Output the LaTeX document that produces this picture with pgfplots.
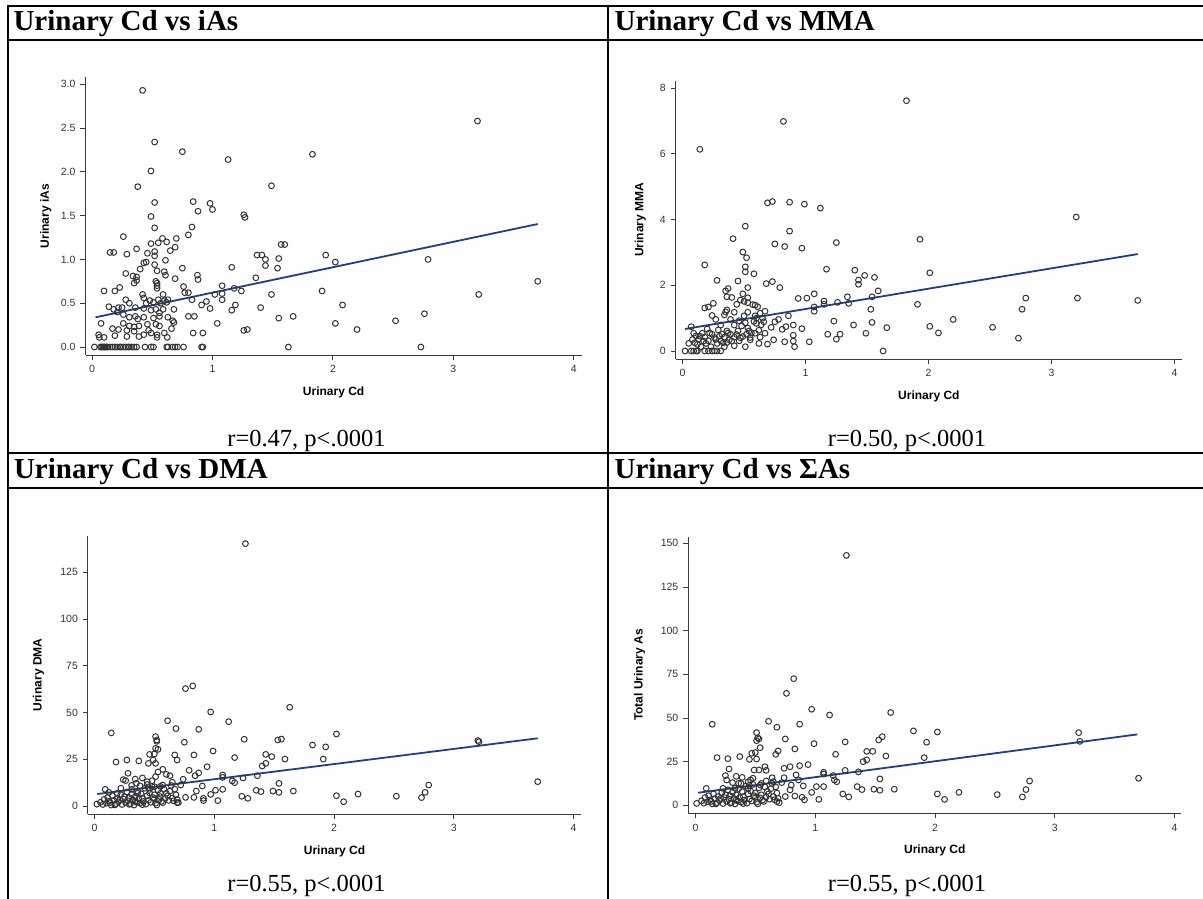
\documentclass[border=0pt]{standalone}
\usepackage{fontspec}
\setmainfont{Liberation Serif}
\setsansfont{Liberation Sans}
\usepackage{pgfplots}
\pgfplotsset{compat=1.18}
\definecolor{fitblue}{RGB}{28,62,140}
\definecolor{axgray}{RGB}{60,60,60}
\pgfplotsset{
  cdpanel/.style={
    scale only axis,
    anchor=south west,
    axis lines=left,
    axis line style={-, draw=axgray, line width=0.9pt},
    every tick/.style={draw=axgray, line width=0.9pt},
    tick align=outside,
    major tick length=5pt,
    xtick={0,1,2,3,4},
    minor tick num=0,
    /pgf/number format/assume math mode=true,
    tick label style={font=\sffamily\fontsize{10.5}{12}\selectfont, text=black!80},
    xticklabel style={yshift=-2pt},
    yticklabel style={xshift=-1.5pt},
    label style={font=\sffamily\bfseries\fontsize{12}{14}\selectfont, text=black},
    xlabel={Urinary Cd},
    xlabel style={at={(axis description cs:0.5,-0.133)}, anchor=center},
    clip=false,
  },
  pts/.style={only marks, mark=o, mark size=2.9pt, mark options={draw=black!80, line width=1pt}},
  fitl/.style={no marks, draw=fitblue, line width=1.8pt},
}
\begin{document}
\begin{tikzpicture}[x=1pt,y=1pt]
\useasboundingbox (0pt,0pt) rectangle (1203pt,899pt);

% ---------- Panel 1: iAs ----------
\begin{axis}[cdpanel, at={(85.5pt,544pt)}, width=496.3pt, height=277.7pt,
  xmin=-0.054, xmax=4.066, ymin=-0.091, ymax=3.079,
  ytick={0,0.5,1,1.5,2,2.5,3},
  yticklabel style={/pgf/number format/fixed,/pgf/number format/fixed zerofill,/pgf/number format/precision=1},
  ylabel={Urinary iAs},
  ylabel style={at={(axis description cs:-0.080,0.5)}, anchor=center}]
\addplot[pts] coordinates {
(0.42,2.93)(0.52,2.34)(0.75,2.23)(1.13,2.14)(1.83,2.20)(3.20,2.58)(0.49,2.01)(0.38,1.83)(1.49,1.84)(0.52,1.65)
(0.84,1.66)(0.98,1.64)(1.00,1.57)(0.88,1.55)(1.26,1.51)(1.27,1.48)(0.49,1.49)(0.52,1.36)(0.83,1.37)(0.80,1.28)
(0.26,1.26)(0.585,1.24)(0.70,1.24)(0.49,1.18)(0.55,1.19)(0.62,1.20)(0.69,1.14)(1.57,1.17)(1.60,1.17)(0.15,1.08)
(0.18,1.08)(0.29,1.06)(0.37,1.12)(0.46,1.07)(0.52,1.09)(0.52,1.04)(0.65,1.10)(1.37,1.05)(1.41,1.05)(1.44,1.00)
(1.55,1.01)(1.94,1.05)(2.02,0.97)(2.79,1.00)(0.43,0.96)(0.45,0.97)(0.52,0.94)(0.61,0.99)(0.40,0.89)(0.54,0.87)
(0.60,0.86)(0.75,0.90)(1.44,0.93)(1.54,0.90)(1.16,0.91)(0.28,0.84)(0.34,0.81)(0.37,0.80)(0.61,0.82)(0.875,0.82)
(0.88,0.77)(0.53,0.75)(0.54,0.73)(0.35,0.73)(0.37,0.76)(0.69,0.78)(1.36,0.79)(0.54,0.70)(0.54,0.67)(0.76,0.69)
(0.77,0.62)(0.80,0.62)(1.08,0.70)(1.18,0.67)(0.10,0.64)(0.19,0.64)(0.23,0.68)(0.42,0.60)(0.59,0.60)(0.63,0.54)
(0.83,0.54)(1.02,0.60)(1.08,0.54)(1.08,0.61)(1.24,0.64)(1.49,0.60)(1.91,0.64)(3.70,0.75)(3.21,0.60)(0.28,0.54)
(0.31,0.50)(0.43,0.56)(0.45,0.50)(0.48,0.53)(0.55,0.54)(0.57,0.50)(0.60,0.53)(0.62,0.51)(0.51,0.51)(0.14,0.46)
(0.22,0.45)(0.25,0.45)(0.21,0.40)(0.18,0.43)(0.36,0.45)(0.43,0.44)(0.49,0.42)(0.53,0.43)(0.59,0.43)(0.68,0.43)
(0.91,0.48)(0.95,0.52)(0.98,0.44)(1.16,0.42)(1.19,0.48)(1.40,0.45)(2.08,0.48)(0.80,0.35)(0.85,0.35)(0.26,0.37)
(0.31,0.34)(0.36,0.35)(0.38,0.32)(0.43,0.34)(0.51,0.33)(0.56,0.35)(0.63,0.34)(0.56,0.39)(0.67,0.30)(0.68,0.28)
(1.55,0.33)(1.67,0.35)(2.76,0.38)(2.52,0.30)(0.075,0.27)(0.26,0.27)(0.31,0.24)(0.35,0.23)(0.39,0.24)(0.46,0.26)
(0.53,0.26)(0.56,0.24)(0.66,0.21)(1.04,0.27)(2.02,0.27)(0.17,0.21)(0.22,0.20)(0.29,0.19)(0.35,0.18)(0.47,0.19)
(0.43,0.14)(0.49,0.16)(0.54,0.14)(0.60,0.16)(0.84,0.16)(0.92,0.16)(1.26,0.19)(1.29,0.20)(2.20,0.20)(0.055,0.14)
(0.06,0.11)(0.10,0.11)(0.19,0.13)(0.29,0.12)(0.39,0.12)(0.625,0.11)(0.54,0.11)
(0.02,0)(0.07,0)(0.08,0)(0.09,0)(0.10,0)(0.11,0)(0.12,0)(0.13,0)(0.15,0)(0.17,0)(0.19,0)(0.21,0)(0.23,0)(0.24,0)
(0.26,0)(0.28,0)(0.30,0)(0.31,0)(0.33,0)(0.35,0)(0.37,0)(0.44,0)(0.49,0)(0.51,0)(0.62,0)(0.63,0)(0.67,0)(0.69,0)
(0.71,0)(0.76,0)(0.91,0)(0.92,0)(1.63,0)(2.73,0)
};
\addplot[fitl] coordinates {(0.029,0.339) (3.70,1.404)};
\end{axis}

% ---------- Panel 2: MMA ----------
\begin{axis}[cdpanel, at={(675.7pt,540pt)}, width=506.3pt, height=278pt,
  xmin=-0.056, xmax=4.06, ymin=-0.244, ymax=8.22,
  ytick={0,2,4,6,8},
  ylabel={Urinary MMA},
  ylabel style={at={(axis description cs:-0.070,0.5)}, anchor=center}]
\addplot[pts] coordinates {
(1.82,7.62)(0.82,6.99)(0.14,6.14)(0.69,4.51)(0.73,4.55)(0.87,4.53)(0.99,4.47)(1.12,4.35)(3.20,4.08)(0.87,3.65)
(0.51,3.80)(0.41,3.42)(1.93,3.40)(0.75,3.26)(0.83,3.18)(0.97,3.13)(1.25,3.30)(0.49,3.01)(0.52,2.84)(0.18,2.62)
(0.51,2.56)(0.51,2.41)(0.58,2.35)(1.17,2.49)(1.40,2.46)(2.01,2.38)(1.48,2.30)(1.56,2.24)(1.43,2.16)(1.43,2.03)
(0.28,2.15)(0.45,2.13)(0.73,2.11)(0.68,2.05)(0.79,1.93)(0.53,1.93)(0.37,1.90)(0.35,1.83)(1.59,1.83)(1.07,1.74)
(0.49,1.74)(0.36,1.65)(0.40,1.63)(0.53,1.62)(0.94,1.60)(1.01,1.61)(1.34,1.65)(1.54,1.65)(2.79,1.61)(3.21,1.61)
(3.70,1.54)(0.47,1.55)(0.50,1.51)(0.53,1.47)(1.15,1.52)(1.26,1.48)(1.35,1.45)(1.15,1.42)(1.91,1.42)(0.25,1.45)
(0.57,1.41)(0.59,1.40)(0.44,1.42)(0.61,1.35)(0.18,1.31)(0.21,1.34)(1.07,1.34)(1.07,1.21)(1.53,1.27)(2.76,1.27)
(0.36,1.25)(0.35,1.19)(0.42,1.18)(0.53,1.18)(0.67,1.21)(0.63,1.15)(0.24,1.08)(0.34,1.10)(0.86,1.07)(0.50,1.07)
(0.59,1.07)(0.65,1.00)(0.78,0.96)(0.27,0.96)(0.39,0.96)(0.46,0.92)(0.75,0.89)(1.23,0.91)(2.20,0.96)(1.54,0.87)
(0.66,0.89)(0.51,0.86)(0.60,0.84)(0.31,0.79)(0.42,0.79)(0.48,0.76)(0.90,0.79)(1.39,0.79)(0.84,0.74)(0.72,0.72)
(0.07,0.74)(2.01,0.75)(2.52,0.72)(0.97,0.68)(1.66,0.71)(0.81,0.66)(0.20,0.67)(0.29,0.64)(0.36,0.61)(0.45,0.61)
(0.54,0.61)(0.62,0.63)(2.08,0.55)(1.49,0.54)(0.09,0.54)(0.16,0.54)(0.24,0.51)(0.32,0.51)(0.39,0.51)(0.52,0.51)
(0.59,0.54)(0.67,0.54)(1.18,0.51)(1.28,0.51)(0.90,0.48)(0.11,0.46)(0.18,0.42)(0.26,0.41)(0.34,0.42)(0.42,0.42)
(0.49,0.44)(0.55,0.41)(0.63,0.42)(2.73,0.39)(1.25,0.36)(0.13,0.36)(0.21,0.31)(0.31,0.31)(0.38,0.34)(0.46,0.31)
(0.55,0.34)(0.74,0.34)(0.83,0.28)(0.90,0.30)(1.03,0.28)(0.05,0.23)(0.10,0.25)(0.19,0.23)(0.28,0.23)(0.36,0.26)
(0.62,0.23)(0.69,0.21)(0.15,0.13)(0.23,0.13)(0.34,0.13)(0.42,0.16)(0.51,0.13)(0.91,0.13)
(0.02,0)(0.07,0)(0.09,0)(0.11,0)(0.12,0)(0.18,0)(0.21,0)(0.24,0)(0.26,0)(0.28,0)(0.31,0)(1.63,0)
(0.08,0.35)(0.12,0.20)(0.14,0.45)(0.17,0.30)(0.22,0.55)(0.27,0.35)(0.30,0.45)(0.33,0.25)(0.37,0.55)(0.40,0.30)
(0.44,0.50)(0.47,0.40)(0.53,0.70)(0.56,0.55)(0.58,0.90)(0.60,1.00)(0.64,0.80)
};
\addplot[fitl] coordinates {(0.019,0.67) (3.70,2.95)};
\end{axis}

% ---------- Panel 3: DMA ----------
\begin{axis}[cdpanel, at={(87.9pt,85pt)}, width=493.3pt, height=278pt,
  xmin=-0.055, xmax=4.063, ymin=-4.28, ymax=144.4,
  ytick={0,25,50,75,100,125},
  ylabel={Urinary DMA},
  ylabel style={at={(axis description cs:-0.100,0.5)}, anchor=center}]
\addplot[pts] coordinates {
(1.26,140.3)(0.76,62.8)(0.82,64.2)(1.63,52.8)(0.97,50.3)(0.61,45.6)(1.12,45.1)(0.68,41.4)(0.87,41.0)(0.14,39.1)
(2.02,38.5)(0.51,37.1)(0.52,35.3)(0.52,34.6)(1.25,35.7)(1.53,35.3)(1.56,35.8)(3.20,35.0)(3.21,34.4)(0.75,34.1)
(0.51,30.8)(0.53,30.3)(1.93,31.6)(1.82,32.6)(0.99,29.4)(0.46,27.6)(0.50,27.8)(0.67,27.3)(0.83,27.3)(1.43,27.6)
(1.48,26.4)(0.27,24.6)(0.37,24.1)(0.49,24.6)(0.69,24.6)(1.17,25.9)(1.59,25.1)(1.91,25.1)(0.18,23.5)(0.45,22.8)
(0.51,22.8)(1.43,22.8)(1.40,21.4)(0.94,21.0)(0.57,19.6)(0.79,19.1)(0.28,17.5)(0.53,18.2)(0.60,16.9)(0.87,17.7)
(0.63,16.2)(0.84,16.2)(1.07,16.6)(1.36,16.2)(0.51,15.7)(1.07,15.3)(1.15,13.4)(1.17,12.5)(1.24,15.0)(0.24,14.1)
(0.34,14.4)(0.40,15.0)(0.26,13.6)(0.74,14.3)(0.44,13.0)(0.65,12.7)(1.54,12.1)(3.70,13.0)(2.79,11.2)(0.35,12.1)
(0.57,11.2)(0.90,10.7)(0.72,11.2)(0.50,10.3)(0.22,9.5)(0.46,8.9)(0.31,8.9)(0.09,8.9)(1.01,8.4)(1.07,8.9)
(1.35,8.4)(1.39,7.7)(1.49,8.0)(1.54,7.3)(1.66,8.0)(2.76,7.3)(0.12,7.3)(0.19,6.8)(0.36,6.8)(0.55,6.8)
(0.97,6.2)(0.85,8.0)(2.20,6.4)(2.02,5.5)(2.52,5.2)(2.73,4.5)(1.23,5.2)(1.28,4.1)(0.83,4.6)(0.76,4.6)
(0.91,4.1)(2.08,2.3)(1.03,2.9)(0.91,2.9)(0.69,1.8)(0.70,1.8)
(0.02,1.0)(0.05,2.0)(0.07,0.8)(0.08,3.5)(0.10,1.5)(0.11,4.5)(0.12,2.5)(0.14,0.5)(0.15,5.5)(0.16,3.0)
(0.18,1.2)(0.19,4.0)(0.20,2.2)(0.22,6.0)(0.23,0.8)(0.24,3.8)(0.25,5.0)(0.26,1.8)(0.27,7.5)(0.28,2.8)
(0.29,4.5)(0.30,1.2)(0.31,6.2)(0.32,3.2)(0.33,0.5)(0.34,5.0)(0.35,2.0)(0.36,8.0)(0.37,3.8)(0.38,1.5)
(0.39,6.5)(0.40,4.2)(0.41,2.4)(0.42,9.5)(0.43,1.0)(0.44,5.5)(0.45,3.0)(0.46,7.0)(0.47,2.0)(0.48,10.5)
(0.49,4.5)(0.50,6.0)(0.51,1.5)(0.52,0.5)(0.53,8.5)(0.54,3.5)(0.55,5.0)(0.56,2.5)(0.58,9.0)(0.59,4.0)
(0.60,6.8)(0.62,3.0)(0.63,8.0)(0.65,4.2)(0.66,2.8)(0.68,6.0)(0.69,3.5)(0.13,1.8)(0.17,0.6)(0.21,3.4)
(0.29,0.9)(0.34,2.6)(0.40,0.7)(0.45,9.8)(0.50,3.8)(0.57,1.8)(0.61,5.5)(0.64,11.0)(0.67,9.0)(0.44,11.5)
(0.38,10.8)(0.31,11.0)(0.48,13.5)(0.55,10.5)
};
\addplot[fitl] coordinates {(0.023,6.4) (3.70,36.2)};
\end{axis}

% ---------- Panel 4: Total As ----------
\begin{axis}[cdpanel, at={(688.3pt,85.7pt)}, width=493pt, height=276.6pt,
  xmin=-0.06, xmax=4.057, ymin=-4.58, ymax=153.8,
  ytick={0,25,50,75,100,125,150},
  ylabel={Total Urinary As},
  ylabel style={at={(axis description cs:-0.099,0.5)}, anchor=center}]
\addplot[pts] coordinates {
(1.26,143.1)(0.82,72.5)(0.76,64.1)(0.97,55.0)(1.12,51.7)(1.63,53.1)(0.14,46.4)(0.61,48.1)(0.68,44.7)(0.87,46.4)
(1.82,42.6)(2.02,42.0)(3.20,41.6)(0.51,41.6)(0.52,38.7)(0.53,38.0)(0.51,37.0)(0.75,38.0)(1.56,39.3)(1.53,37.4)
(1.25,36.3)(1.93,36.1)(3.21,36.6)(0.99,35.3)(0.54,33.0)(0.83,32.3)(0.47,29.8)(0.50,30.2)(0.69,31.1)(0.67,29.2)
(1.43,30.9)(1.48,30.9)(1.17,29.2)(0.18,27.3)(0.27,26.7)(0.37,27.9)(0.45,26.3)(0.51,26.5)(1.59,28.2)(1.91,27.3)
(1.43,26.0)(1.40,25.0)(0.94,23.3)(0.87,22.7)(0.79,22.1)(0.74,21.2)(0.28,20.8)(0.49,20.2)(0.53,20.2)(0.58,22.1)
(0.59,20.0)(1.25,20.0)(1.36,19.1)(1.07,18.9)(1.07,17.9)(0.84,17.4)(0.25,17.0)(0.34,16.6)(0.39,16.0)(1.15,17.0)
(1.16,14.5)(1.18,13.5)(1.54,15.1)(3.70,15.5)(2.79,13.9)(0.74,15.8)(0.64,15.8)(0.26,14.5)(0.46,14.5)(0.59,13.9)
(0.65,13.5)(0.86,14.5)(0.72,13.0)(0.36,12.6)(0.54,11.6)(0.80,11.6)(0.90,11.1)(1.01,10.7)(1.07,10.7)(1.35,10.7)
(0.09,9.7)(0.23,9.7)(0.33,9.7)(0.44,9.7)(1.39,9.0)(1.49,9.2)(1.54,8.6)(1.66,9.2)(2.76,9.0)(0.79,8.8)
(0.97,7.4)(2.20,7.4)(2.02,6.5)(2.52,6.1)(1.23,6.5)(1.28,4.8)(2.73,4.8)(0.83,5.3)(0.75,5.0)(0.89,4.6)
(2.08,3.4)(1.03,3.4)(0.91,3.1)(0.68,2.1)(0.70,1.5)(0.01,1.1)
(0.05,2.5)(0.07,1.2)(0.08,4.5)(0.10,2.0)(0.11,5.5)(0.12,3.0)(0.14,0.8)(0.15,6.5)(0.16,3.8)(0.18,1.5)
(0.19,5.0)(0.20,2.8)(0.22,7.2)(0.23,1.0)(0.24,4.5)(0.25,6.0)(0.26,2.2)(0.27,8.8)(0.28,3.5)(0.29,5.5)
(0.30,1.5)(0.31,7.5)(0.32,4.0)(0.33,0.8)(0.34,6.0)(0.35,2.5)(0.36,9.5)(0.37,4.5)(0.38,1.8)(0.39,7.8)
(0.40,5.0)(0.41,3.0)(0.42,11.0)(0.43,1.2)(0.44,6.5)(0.45,3.5)(0.46,8.2)(0.47,2.5)(0.48,12.0)(0.49,5.5)
(0.50,7.0)(0.51,1.8)(0.52,0.8)(0.53,10.0)(0.54,4.2)(0.55,6.0)(0.56,3.0)(0.58,10.5)(0.59,4.8)(0.60,8.0)
(0.62,3.5)(0.63,9.5)(0.65,5.0)(0.66,3.2)(0.68,7.0)(0.69,4.0)(0.13,2.2)(0.17,0.8)(0.21,4.0)(0.29,1.2)
(0.34,3.2)(0.40,1.0)(0.45,11.5)(0.50,4.5)(0.57,2.2)(0.61,6.5)(0.64,12.5)(0.67,10.5)(0.44,13.5)(0.38,12.5)
(0.31,13.0)(0.48,15.5)(0.55,12.5)
};
\addplot[fitl] coordinates {(0.023,7.2) (3.69,40.6)};
\end{axis}

% ---------- table frame ----------
\begin{scope}[line width=2pt, black]
\draw (7.5,893.3) -- (1210,893.3);
\draw (7.5,858.5) -- (1210,858.5);
\draw (7.5,445.7) -- (1210,445.7);
\draw (7.5,411.3) -- (1210,411.3);
\draw (7.5,894.3) -- (7.5,-5);
\draw (608,894.3) -- (608,-5);
\end{scope}

% ---------- headers ----------
\begin{scope}[every node/.style={inner sep=0pt, anchor=base west, font=\bfseries\fontsize{29}{30}\selectfont}]
\node at (13.3,868.3) {Urinary Cd vs iAs};
\node at (614.4,868.3) {Urinary Cd vs MMA};
\node at (13.8,420) {Urinary Cd vs DMA};
\node at (614.4,420) {Urinary Cd vs ΣAs};
\end{scope}

% ---------- captions ----------
\begin{scope}[every node/.style={inner sep=0pt, anchor=base, font=\fontsize{24.5}{26}\selectfont}]
\node at (306.5,452.3) {r=0.47, p<.0001};
\node at (907,452.3) {r=0.50, p<.0001};
\node at (306.5,7) {r=0.55, p<.0001};
\node at (907,7) {r=0.55, p<.0001};
\end{scope}
\end{tikzpicture}
\end{document}
